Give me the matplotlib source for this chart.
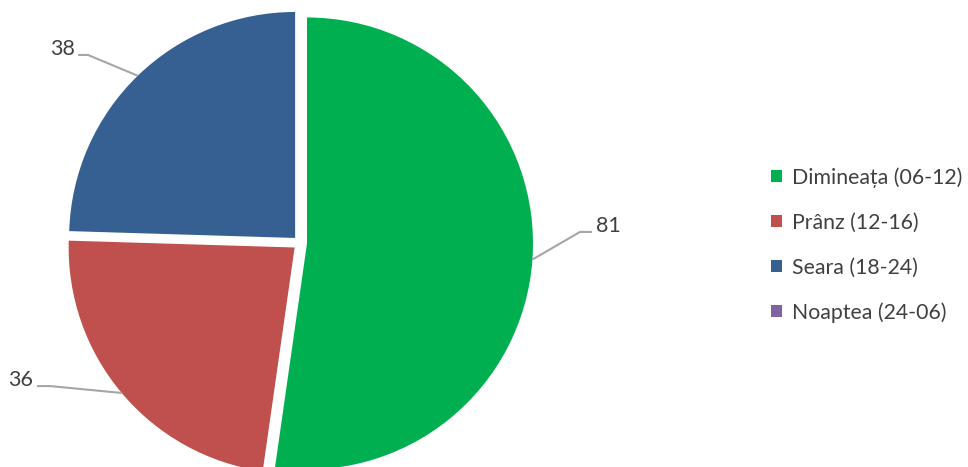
import numpy as np
import matplotlib
matplotlib.use("Agg")
import matplotlib.pyplot as plt

categories = ["Dimineața (06-12)", "Prânz (12-16)", "Seara (18-24)", "Noaptea (24-06)"]
values = [81, 36, 38, 0]
colors = ["#00B050", "#C0504D", "#376092", "#8064A2"]

plt.rcParams['font.family'] = ['Lato', 'DejaVu Sans']

W, H = 968, 467
fig = plt.figure(figsize=(W / 100, H / 100), dpi=100)
R = 226.0
cx, cy = 300.0, 224.0  # pixel centre (from bottom)
lim = 1.2
size = 2 * lim * R
ax = fig.add_axes([(cx - size / 2) / W, (cy - size / 2) / H, size / W, size / H])

wedges, _ = ax.pie(values, colors=colors, startangle=90, counterclock=False,
                   explode=[0.031] * len(values), radius=1.0,
                   wedgeprops=dict(linewidth=0))
ax.set_xlim(-lim, lim)
ax.set_ylim(-lim, lim)
ax.set_aspect('auto')
ax.axis('off')

# leader label layout (data units): elbow, end, text x, alignment
label_layout = {
    0: ((1.239, 0.049), (1.292, 0.049), 1.31, 'left'),
    2: ((-0.938, 0.832), (-0.982, 0.832), -0.996, 'right'),
    1: ((-1.106, -0.633), (-1.164, -0.633), -1.18, 'right'),
}
for i, (elbow, end, tx, ha) in label_layout.items():
    w = wedges[i]
    ang = np.deg2rad((w.theta1 + w.theta2) / 2)
    x0 = w.center[0] + w.r * np.cos(ang)
    y0 = w.center[1] + w.r * np.sin(ang)
    ax.plot([x0, elbow[0], end[0]], [y0, elbow[1], end[1]], color="#A6A6A6",
            lw=1.5, solid_capstyle='butt', clip_on=False)
    ax.text(tx, end[1] + 0.025, str(values[i]), ha=ha, va='center',
            fontsize=15.5, color="#404040")

leg = fig.legend(wedges, categories, loc='center left',
                 bbox_to_anchor=(756 / W, 1 - 245 / H), frameon=False,
                 fontsize=15.3, handlelength=0.5, handleheight=0.5,
                 handletextpad=0.5, labelspacing=1.17, labelcolor="#404040",
                 borderpad=0.2)

fig.savefig("out.png", dpi=100)
